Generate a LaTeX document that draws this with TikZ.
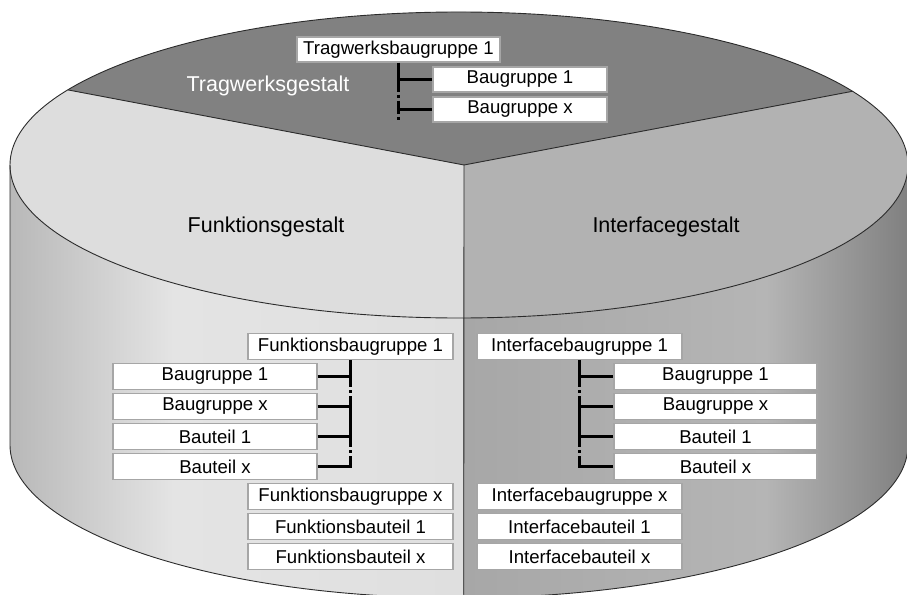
\documentclass[tikz,border=0pt]{standalone}
\usepackage{fontspec}
\setmainfont{Liberation Sans}

\definecolor{topdark}{HTML}{818181}
\definecolor{topleft}{HTML}{DDDDDD}
\definecolor{topright}{HTML}{B2B2B2}
\definecolor{sideleftA}{HTML}{B8B8B8}
\definecolor{sideleftB}{HTML}{E4E4E4}
\definecolor{sideleftC}{HTML}{DFDFDF}
\definecolor{siderightA}{HTML}{A7A7A7}
\definecolor{siderightB}{HTML}{B5B5B5}
\definecolor{siderightC}{HTML}{808080}
\definecolor{boxline}{HTML}{A6A6A6}
\definecolor{edge}{HTML}{2B2B2B}

\pgfdeclarehorizontalshading{leftside}{100bp}{color(0bp)=(sideleftA); color(25bp)=(sideleftA); color(43bp)=(sideleftB); color(75bp)=(sideleftC); color(100bp)=(sideleftC)}
\pgfdeclarehorizontalshading{rightside}{100bp}{color(0bp)=(siderightA); color(25bp)=(siderightA); color(59bp)=(siderightB); color(75bp)=(siderightC); color(100bp)=(siderightC)}

\begin{document}
\begin{tikzpicture}[x=1pt,y=-1pt,
	box/.style={draw=boxline,line width=1.4pt,fill=white,inner sep=0pt,minimum height=26.5pt,font=\fontsize{18.6}{22}\selectfont},
	topbox/.style={box,minimum height=25pt},
	face/.style={font=\fontsize{21.5}{26}\selectfont},
	tree/.style={line width=2.3pt},
	rim/.style={draw=edge,line width=0.9pt},
	ell/.style={x radius=449pt,y radius=153pt}]

\useasboundingbox (0,0) rectangle (907,594);
\clip (0,0) rectangle (907,594);

\coordinate (top) at (459,165);
\coordinate (bot) at (459,445);
\coordinate (v) at (464,165);
\coordinate (p1) at ([shift={(150.6:449pt and 153pt)}]top);
\coordinate (p2) at ([shift={(28.8:449pt and 153pt)}]top);
\coordinate (tl) at ([shift={(180:449pt and 153pt)}]top);
\coordinate (tr) at ([shift={(0:449pt and 153pt)}]top);
\coordinate (tm) at ([shift={(270.6:449pt and 153pt)}]top);
\coordinate (bl) at ([shift={(180:449pt and 153pt)}]bot);
\coordinate (bm) at ([shift={(270.6:449pt and 153pt)}]bot);

\path[shading=leftside] (tl) -- (bl) arc[ell,start angle=180,end angle=270.6] -- (tm) arc[ell,start angle=270.6,end angle=180] -- cycle;
\path[shading=rightside] (tm) -- (bm) arc[ell,start angle=270.6,end angle=360] -- (tr) arc[ell,start angle=360,end angle=270.6] -- cycle;

\fill[topleft] (v) -- (p1) arc[ell,start angle=150.6,end angle=270.6] -- cycle;
\fill[topright] (v) -- (tm) arc[ell,start angle=-89.4,end angle=28.8] -- cycle;
\fill[topdark] (v) -- (p2) arc[ell,start angle=28.8,end angle=150.6] -- cycle;

\draw[rim] (top) ellipse[ell];
\draw[rim] (p1) -- (v) -- (p2);
\draw[rim] (v) -- (bm);
\draw[rim] (tl) -- (bl) arc[ell,start angle=180,end angle=360] -- (tr);

\node[face,text=white,anchor=base] (tlabel) at (268,92) {Tragwerksgestalt};
\node[face,anchor=base] (flabel) at (266,232) {Funktionsgestalt};
\node[face,anchor=base] (ilabel) at (666,232) {Interfacegestalt};

\node[topbox,minimum width=203pt] (tb1) at (398.5,49.5) {Tragwerksbaugruppe 1};
\node[topbox,minimum width=174pt] (tc1) at (520,79.5) {Baugruppe 1};
\node[topbox,minimum width=174pt] (tc2) at (520,109.5) {Baugruppe x};

\node[box,minimum width=205pt] (fb1) at (350.5,346.5) {Funktionsbaugruppe 1};
\foreach \name [count=\i] in {Baugruppe 1,Baugruppe x,Bauteil 1,Bauteil x}
	\node[box,minimum width=204pt] (fc\i) at (215,{346.5+30*\i}) {\name};
\foreach \name [count=\i from 2] in {Funktionsbaugruppe x,Funktionsbauteil 1,Funktionsbauteil x}
	\node[box,minimum width=205pt] (fb\i) at (350.5,{436.5+30*\i}) {\name};

\node[box,minimum width=205pt] (ib1) at (579.5,346.5) {Interfacebaugruppe 1};
\foreach \name [count=\i] in {Baugruppe 1,Baugruppe x,Bauteil 1,Bauteil x}
	\node[box,minimum width=203pt] (ic\i) at (715.5,{346.5+30*\i}) {\name};
\foreach \name [count=\i from 2] in {Interfacebaugruppe x,Interfacebauteil 1,Interfacebauteil x}
	\node[box,minimum width=205pt] (ib\i) at (579.5,{436.5+30*\i}) {\name};

\coordinate (tend) at ([yshift=-57pt]tb1.south);
\draw[tree,dash pattern=on 29pt off 3pt on 3pt off 3pt on 13pt off 3pt on 3pt] (tb1.south) -- (tend);
\foreach \i in {1,2}
	\draw[tree] (tc\i.west -| tb1.south) -- (tc\i.west);

\draw[tree,dash pattern=on 26.75pt off 3pt on 3pt off 3pt on 51pt off 3pt on 3pt off 3pt on 60pt] (fb1.south) -- (fc4.east -| fb1.south) -- (fc4.east);
\foreach \i in {1,2,3}
	\draw[tree] (fc\i.east) -- (fc\i.east -| fb1.south);

\draw[tree,dash pattern=on 26.75pt off 3pt on 3pt off 3pt on 51pt off 3pt on 3pt off 3pt on 60pt] (ib1.south) -- (ic4.west -| ib1.south) -- (ic4.west);
\foreach \i in {1,2,3}
	\draw[tree] (ic\i.west -| ib1.south) -- (ic\i.west);

\end{tikzpicture}
\end{document}
